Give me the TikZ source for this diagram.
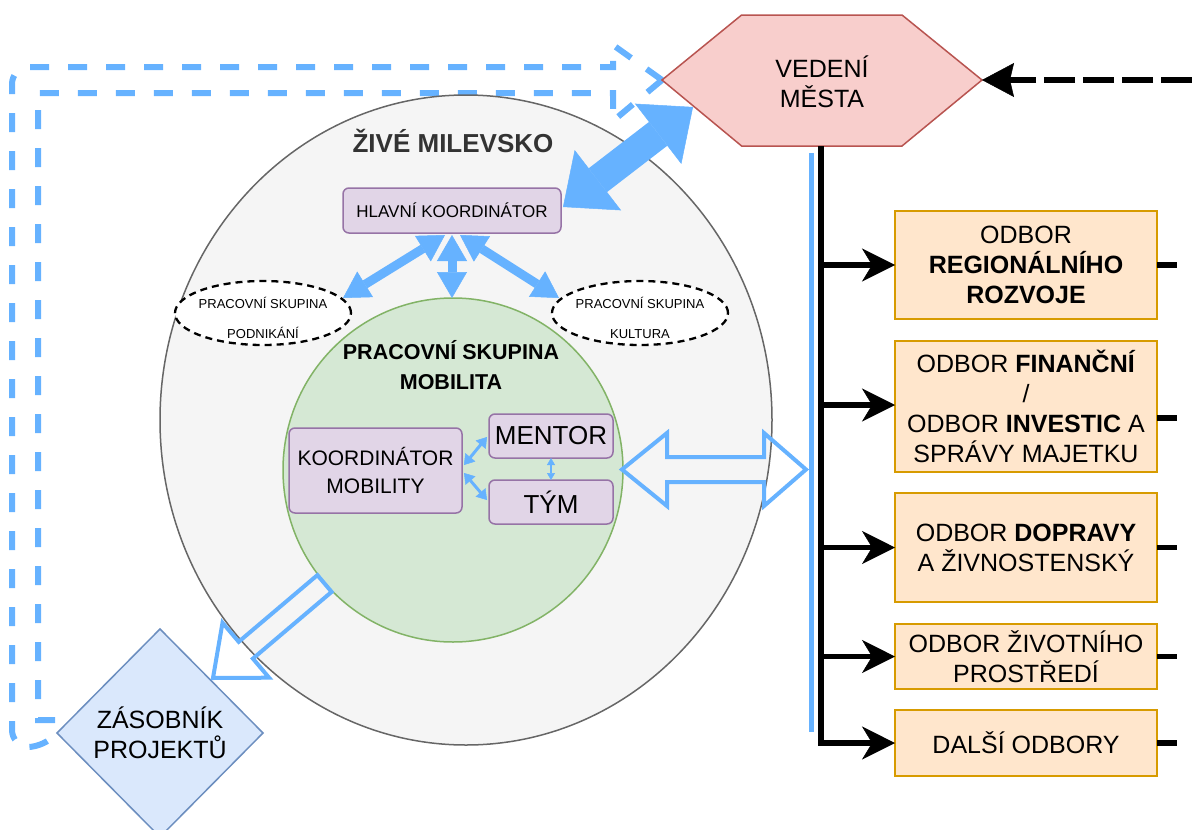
\documentclass[tikz,border=0pt]{standalone}
\usepackage{fontspec}
\setmainfont{Liberation Sans}
\usetikzlibrary{arrows.meta,shapes.geometric,calc}
\definecolor{blu}{HTML}{66B2FF}
\definecolor{hexfill}{HTML}{F8CECC}
\definecolor{hexdraw}{HTML}{B85450}
\definecolor{orfill}{HTML}{FFE6CC}
\definecolor{ordraw}{HTML}{D79B00}
\definecolor{purfill}{HTML}{E1D5E7}
\definecolor{purdraw}{HTML}{9673A6}
\definecolor{grfill}{HTML}{D5E8D4}
\definecolor{grdraw}{HTML}{82B366}
\definecolor{gyfill}{HTML}{F5F5F5}
\definecolor{gydraw}{HTML}{666666}
\definecolor{bfill}{HTML}{DAE8FC}
\definecolor{bdraw}{HTML}{6C8EBF}
\definecolor{darktxt}{HTML}{333333}
\begin{document}
\begin{tikzpicture}[x=1pt,y=-1pt,
  every node/.style={inner sep=0pt, outer sep=0pt, align=center},
  obox/.style={draw=ordraw, fill=orfill, line width=1.5pt, minimum width=262pt, font=\fontsize{25}{30}\selectfont},
  pbox/.style={draw=purdraw, fill=purfill, line width=1.5pt, rounded corners=6pt},
  dashell/.style={ellipse, draw=black, fill=white, line width=2.3pt, dash pattern=on 7pt off 5pt, minimum width=176pt, minimum height=64pt},
  blk/.style={line width=5.5pt, draw=black},
  blkarrow/.style={blk, -{Stealth[length=33pt,width=33pt,inset=10pt,line width=0.5pt]}},
  bluedash/.style={draw=blu, line width=6pt, dash pattern=on 19pt off 19pt},
  flexm/.style={draw=blu, line width=9pt, {Triangle[length=26pt,width=30pt,line width=0.5pt]}-{Triangle[length=26pt,width=30pt,line width=0.5pt]}},
  flexbig/.style={draw=blu, line width=30pt, {Triangle[length=44pt,width=76pt,line width=0.5pt]}-{Triangle[length=44pt,width=76pt,line width=0.5pt]}},
  flexs/.style={draw=blu, line width=3pt, {Triangle[length=10pt,width=13pt,line width=0.5pt]}-{Triangle[length=10pt,width=13pt,line width=0.5pt]}},
  flext/.style={draw=blu, line width=2pt, {Triangle[length=7pt,width=8pt,line width=0.5pt]}-{Triangle[length=7pt,width=8pt,line width=0.5pt]}},
  hollow/.style={draw=blu, line width=4pt, line join=miter},
]
\path[use as bounding box] (0,0) rectangle (1192,830);
\clip (0,0) rectangle (1192,830);

% hexagon coordinates
\coordinate (hexL) at (662,80);
\coordinate (hexTL) at (741.6,15);
\coordinate (hexTR) at (902,15);
\coordinate (hexR) at (982,80);
\coordinate (hexBR) at (902,146);
\coordinate (hexBL) at (741.6,146);
\coordinate (hexB) at (821,146);

% diamond
\node[diamond, draw=bdraw, fill=bfill, line width=1.5pt, minimum width=206pt, minimum height=208pt, font=\fontsize{25}{30}\selectfont] (zas) at (160,733) {ZÁSOBNÍK\\PROJEKTŮ};

% blue dashed double line
\draw[bluedash] (hexL) -- (613,45) -- (613,67) [rounded corners=17pt] -- (12,67) -- (12,747) -- (45,747) [sharp corners] -- (zas.west);
\draw[bluedash] (hexL) -- (613,121) -- (613,93) -- (38,93) -- (38,720) -- (57,720) -- (zas.west);

% big ellipse
\node[ellipse, draw=gydraw, fill=gyfill, line width=1.5pt, minimum width=612pt, minimum height=650pt] (zive) at (466,420) {};
\node[font=\bfseries\fontsize{26}{30}\selectfont, text=darktxt] (zivet) at (453,141) {ŽIVÉ MILEVSKO};

% green ellipse
\node[ellipse, draw=grdraw, fill=grfill, line width=1.5pt, minimum width=340pt, minimum height=344pt] (mob) at (453,470) {};
\node[font=\bfseries\fontsize{21.5}{30}\selectfont] (mobt) at (451,365) {PRACOVNÍ SKUPINA\\MOBILITA};

% hlavni koordinator
\node[pbox, minimum width=218pt, minimum height=45pt, font=\fontsize{17}{20}\selectfont] (hk) at (452,210.5) {HLAVNÍ KOORDINÁTOR};

% dashed ellipses
\node[dashell] (pod) at (263,313) {};
\node[font=\fontsize{13}{30}\selectfont] (podt) at (263,318) {PRACOVNÍ SKUPINA\\PODNIKÁNÍ};
\node[dashell] (kul) at (640,313) {};
\node[font=\fontsize{13}{30}\selectfont] (kult) at (640,318) {PRACOVNÍ SKUPINA\\KULTURA};

% mobility inner boxes
\node[pbox, minimum width=173pt, minimum height=85pt, font=\fontsize{21}{28}\selectfont] (kom) at (375.5,470.5) {KOORDINÁTOR\\MOBILITY};
\node[pbox, minimum width=124pt, minimum height=44pt, font=\fontsize{26}{30}\selectfont] (men) at (551,436) {MENTOR};
\node[pbox, minimum width=124pt, minimum height=44pt, font=\fontsize{26}{30}\selectfont] (tym) at (551,502) {TÝM};

% arrows from hlavni koordinator
\coordinate (hk1) at (445,235);
\coordinate (hk2) at (452,235);
\coordinate (hk3) at (460,235);
\coordinate (podE) at (343,298);
\coordinate (mobN) at (452,298);
\coordinate (kulW) at (559,298);
\draw[flexm] (hk1) -- (podE);
\draw[flexm] (hk2) -- (mobN);
\draw[flexm] (hk3) -- (kulW);

% tiny arrows
\coordinate (km1) at (464,465);
\coordinate (km2) at (464,473);
\coordinate (mn1) at (487,437);
\coordinate (ty1) at (487,500);
\draw[flexs] (km1) -- (mn1);
\draw[flexs] (km2) -- (ty1);
\draw[flext] (men.south) -- (tym.north);

% hollow double arrow
\draw[hollow] (622,469.5) -- (667,433) -- (667,457) -- (764,457) -- (764,433) -- (806,469.5) -- (764,506) -- (764,482) -- (667,482) -- (667,506) -- cycle;

% hollow arrow to diamond
\draw[hollow] (331.6,591.9) -- (252.9,658.6) -- (269.1,677.7) -- (213,678) -- (222.5,622.7) -- (238.7,641.8) -- (317.4,575.1) -- cycle;

% hexagon
\draw[draw=hexdraw, fill=hexfill, line width=1.5pt] (hexL) -- (hexTL) -- (hexTR) -- (hexR) -- (hexBR) -- (hexBL) -- cycle;
\node[font=\fontsize{25}{30}\selectfont] (ved) at (822,82) {VEDENÍ\\MĚSTA};

% big double arrow
\coordinate (bigA) at (563,207);
\coordinate (bigB) at (693,107);
\draw[flexbig] (bigA) -- (bigB);

% dashed black arrow
\coordinate (rin) at (1192,80);
\draw[line width=6pt, dash pattern=on 31pt off 8pt, -{Stealth[length=32pt,width=34pt,inset=4pt,line width=0.5pt]}] (rin) -- (hexR);

% blue vertical line
\coordinate (bl1) at (811,153);
\coordinate (bl2) at (811,732);
\draw[draw=blu, line width=5pt] (bl1) -- (bl2);

% department boxes
\node[obox, minimum height=108pt] (o1) at (1026,265) {ODBOR\\\textbf{REGIONÁLNÍHO}\\\textbf{ROZVOJE}};
\node[obox, minimum height=131pt] (o2) at (1026,406.5) {ODBOR \textbf{FINANČNÍ}\\/\\ODBOR \textbf{INVESTIC} A\\SPRÁVY MAJETKU};
\node[obox, minimum height=109pt] (o3) at (1026,547.5) {ODBOR \textbf{DOPRAVY}\\A ŽIVNOSTENSKÝ};
\node[obox, minimum height=65pt] (o4) at (1026,656.5) {ODBOR ŽIVOTNÍHO\\PROSTŘEDÍ};
\node[obox, minimum height=66pt] (o5) at (1026,743) {DALŠÍ ODBORY};

% trunk and branches
\draw[blkarrow] (hexB) |- (o5.west);
\draw[blkarrow] (o1.west -| hexB) -- (o1.west);
\draw[blkarrow] ($(o2.west -| hexB)+(0,-1.5)$) -- ($(o2.west)+(0,-1.5)$);
\draw[blkarrow] (o3.west -| hexB) -- (o3.west);
\draw[blkarrow] (o4.west -| hexB) -- (o4.west);

% stubs
\draw[blk] (o1.east) -- ++(20,0);
\draw[blk] ($(o2.east)+(0,11.5)$) -- ++(20,0);
\draw[blk] (o3.east) -- ++(20,0);
\draw[blk] (o4.east) -- ++(20,0);
\draw[blk] (o5.east) -- ++(20,0);
\end{tikzpicture}
\end{document}
